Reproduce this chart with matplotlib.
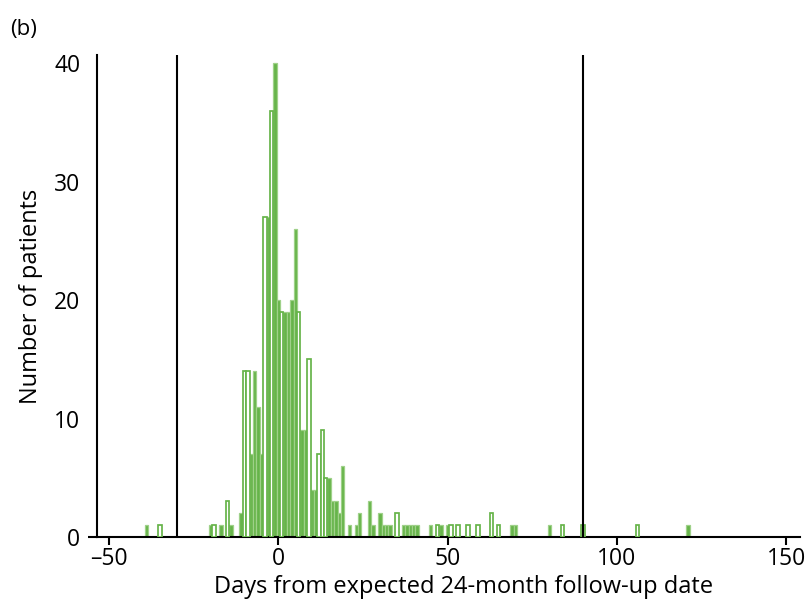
import matplotlib
matplotlib.use('Agg')
import matplotlib.pyplot as plt

# ---- data ----
days = [-39, -35, -20, -19, -17, -15, -14, -11, -10, -9, -8, -7, -6, -5,
        -4, -3, -2, -1, 0, 1, 2, 3, 4, 5, 6, 7, 8, 9, 10, 11, 12, 13, 14,
        15, 16, 17, 18, 19, 21, 23, 24, 27, 28, 30, 31, 32, 33, 35, 37, 38,
        39, 40, 41, 45, 47, 48, 50, 51, 53, 56, 59, 63, 65, 69, 70, 80, 84,
        90, 106, 121]
counts = [1, 1, 1, 1, 1, 3, 1, 2, 14, 14, 7, 14, 11, 7,
          27, 27, 36, 40, 20, 19, 19, 19, 20, 26, 19, 9, 9, 15, 4, 4, 7, 9, 5,
          5, 3, 3, 2, 6, 1, 1, 2, 3, 1, 2, 1, 1, 1, 2, 1, 1,
          1, 1, 1, 1, 1, 1, 1, 1, 1, 1, 1, 2, 1, 1, 1, 1, 1,
          1, 1, 1]
hollow_days = [-35, -19, -15, -10, -9, -4, -2, 1, 6, 9, 12, 13, 14, 35, 47,
               51, 53, 56, 59, 63, 65, 84, 90, 106]
window_days = [-30, 90]
xticks = [-50, 0, 50, 100, 150]
yticks = [0, 10, 20, 30, 40]
xlabel = 'Days from expected 24-month follow-up date'
ylabel = 'Number of patients'
panel = '(b)'

# ---- style ----
plt.rcParams['font.family'] = ['Open Sans', 'DejaVu Sans']
GREEN = '#66b44a'
LIGHT = '#9fd189'

fig = plt.figure(figsize=(8.07, 5.99), dpi=100)
ax = fig.add_axes([97 / 807, 62 / 599, 703 / 807, 482 / 599])

fd = [d for d in days if d not in hollow_days]
fc = [c for d, c in zip(days, counts) if d not in hollow_days]
hd = [d for d in days if d in hollow_days]
hc = [c for d, c in zip(days, counts) if d in hollow_days]

ax.bar(fd, fc, width=1.0, facecolor=GREEN, edgecolor=LIGHT, linewidth=0.9, zorder=2)
ax.bar(hd, hc, width=1.0, facecolor='white', edgecolor=GREEN, linewidth=1.25, zorder=3)

for w in window_days:
    ax.axvline(w, color='black', linewidth=1.5, zorder=4)

ax.set_xlim(-53.6, 154.1)
ax.set_ylim(0, 40.7)
ax.set_xticks(xticks)
ax.set_yticks(yticks)
ax.set_xticklabels([str(t).replace('-', '\u2013') for t in xticks])

for s in ['top', 'right']:
    ax.spines[s].set_visible(False)
for s in ['left', 'bottom']:
    ax.spines[s].set_linewidth(1.5)

ax.tick_params(axis='x', direction='out', length=6, width=1.5, labelsize=16.5, pad=1)
ax.tick_params(axis='y', length=0, labelsize=16.5, pad=12)
# small stub of the x axis left of the y axis
ax.plot([-0.013, 0], [0, 0], transform=ax.transAxes, color='black',
        linewidth=1.5, clip_on=False, solid_capstyle='butt')

ax.set_xlabel(xlabel, fontsize=17)
ax.xaxis.set_label_coords(0.522, -0.079, transform=ax.transAxes)
ax.xaxis.label.set_va('top')
ax.set_ylabel(ylabel, fontsize=17, labelpad=8)
fig.text(10 / 807, 1 - 30 / 599, panel, fontsize=16, va='center', ha='left')

fig.savefig('out.png', dpi=100)
